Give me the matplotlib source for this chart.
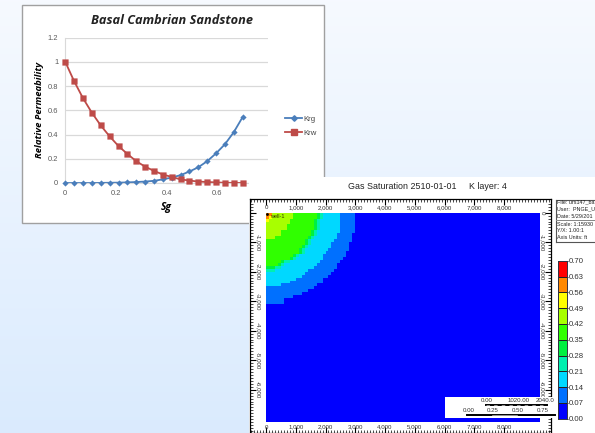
import numpy as np
import matplotlib
matplotlib.use('Agg')
import matplotlib.pyplot as plt
from matplotlib.colors import ListedColormap, BoundaryNorm
from matplotlib.lines import Line2D
from matplotlib.patches import Rectangle

W, H = 595, 433

# relative permeability curves
sg = [0, 0.035, 0.07, 0.105, 0.14, 0.175, 0.21, 0.245, 0.28, 0.315, 0.35,
      0.385, 0.42, 0.455, 0.49, 0.525, 0.56, 0.595, 0.63, 0.665, 0.7]
krg = [0, 0, 0, 0, 0.001, 0.002, 0.003, 0.005, 0.008, 0.012, 0.018,
       0.03, 0.045, 0.065, 0.095, 0.13, 0.18, 0.245, 0.32, 0.42, 0.545]
krw = [1, 0.84, 0.70, 0.58, 0.475, 0.385, 0.305, 0.24, 0.18, 0.135, 0.10,
       0.07, 0.05, 0.03, 0.02, 0.012, 0.008, 0.005, 0.002, 0.001, 0]

# saturation map: outer edge (ft) of each band, per 100 ft row
edge_007 = [3000]*7 + [2900]*3 + [2800]*3 + [2700, 2700, 2600, 2500, 2400, 2400, 2300, 2200,
                                            2100, 1900, 1900, 1700, 1600, 1400, 1200, 900, 600, 600]
edge_014 = [2500]*7 + [2400, 2400, 2300, 2200, 2200, 2100, 2000, 1900, 1900, 1800, 1700, 1600,
                       1400, 1300, 1200, 1000, 800, 500]
edge_021 = [1900, 1900, 1800, 1800, 1800, 1800, 1700, 1700, 1600, 1500, 1500, 1400, 1300, 1300,
            1100, 1000, 800, 600, 500, 300]
edge_028 = [1800, 1800, 1700, 1700, 1700, 1700, 1600, 1600, 1500, 1400, 1400, 1300, 1200, 1200,
            1000, 900, 600, 500, 300]
edge_035 = [1700, 1700, 1600, 1600, 1600, 1600, 1500, 1500, 1400, 1300, 1300, 1200, 1100, 1100,
            900, 800, 500, 400]
edge_042 = [900, 900, 800, 800, 700, 700, 500, 500, 300]
edge_049 = [200, 200, 100]
edge_056 = [200, 100]
map_edges = [edge_007, edge_014, edge_021, edge_028, edge_035, edge_042, edge_049, edge_056]

levels = [0.00, 0.07, 0.14, 0.21, 0.28, 0.35, 0.42, 0.49, 0.56, 0.63, 0.70]
level_colors = ['#0000ff', '#0070ff', '#00d8ff', '#00f0b0', '#00f040', '#30ff00',
                '#a8ff00', '#ffff00', '#ff8800', '#ff0000']
level_labels = ['0.00', '0.07', '0.14', '0.21', '0.28', '0.35', '0.42', '0.49', '0.56', '0.63', '0.70']

map_xticks = [0, 1000, 2000, 3000, 4000, 5000, 6000, 7000, 8000]
map_yticks = [0, -1000, -2000, -3000, -4000, -5000, -6000]
scale_top = ['0.00', '1020.00', '2040.0']
scale_bot = ['0.00', '0.25', '0.50', '0.75']
info_lines = ['File: urs147_ba', 'User:  PNGE_U', 'Date: 5/29/201', 'Scale: 1:15930', 'Y/X: 1.00:1', 'Axis Units: ft']


def px_axes(fig, left, top, right, bottom, **kw):
    return fig.add_axes([left/W, 1 - bottom/H, (right-left)/W, (bottom-top)/H], **kw)


fig = plt.figure(figsize=(W/100, H/100), dpi=100)
plt.rcParams['font.family'] = ['Liberation Sans', 'DejaVu Sans']

# slide background
bg = fig.add_axes([0, 0, 1, 1], zorder=0)
shade = np.linspace(0, 1, 200)[:, None, None]
c0 = np.array([0.965, 0.98, 1.0])
c1 = np.array([0.855, 0.92, 0.995])
bg.imshow(c0 + (c1-c0)*shade, extent=[0, 1, 0, 1], aspect='auto', origin='upper')
bg.axis('off')

# excel chart panel
fig.add_artist(Rectangle((21.5/W, 1-223/H), 302/W, 218/H, transform=fig.transFigure,
                         fc='white', ec='#a0a0a0', lw=1.0, zorder=1))
ax = px_axes(fig, 65.3, 37.7, 268, 183, zorder=2)
ax.patch.set_alpha(0)
# scatter so the markers don't get snapped to whole pixels
ax.plot(sg, krg, color='#4a7ebb', lw=1.3, clip_on=False)
ax.scatter(sg, krg, color='#4a7ebb', marker='D', s=10, lw=0, clip_on=False, zorder=3).set_snap(False)
ax.plot(sg, krw, color='#be4b48', lw=1.3, clip_on=False)
ax.scatter(sg, krw, color='#be4b48', marker='s', s=20, lw=0, clip_on=False, zorder=3).set_snap(False)
ax.set_xlim(0, 0.8)
ax.set_ylim(0, 1.2)
ax.set_xticks([0, 0.2, 0.4, 0.6])
ax.set_xticklabels(['0', '0.2', '0.4', '0.6'])
ax.set_yticks([0, 0.2, 0.4, 0.6, 0.8, 1, 1.2])
ax.set_yticklabels(['0', '0.2', '0.4', '0.6', '0.8', '1', '1.2'])
ax.grid(axis='y', color='#d9d9d9', lw=0.9)
ax.set_axisbelow(True)
for s in ['top', 'right']:
    ax.spines[s].set_visible(False)
ax.spines['left'].set_color('#d9d9d9')
ax.spines['bottom'].set_color('#d9d9d9')
ax.tick_params(length=0, labelsize=5.4, labelcolor='#595959', pad=5)
ax.set_xlabel('Sg', fontsize=7.4, fontweight='bold', style='italic', family='Open Sans', labelpad=3.5)
ax.set_ylabel('Relative Permeability', fontsize=6.8, fontweight='bold', style='italic',
              family='Open Sans', labelpad=3)
fig.text(172/W, 1-20/H, 'Basal Cambrian Sandstone', fontsize=9.2, fontweight='bold', style='italic',
         family='Open Sans', ha='center', va='center', zorder=3, color='#222222')
handles = [Line2D([], [], color='#4a7ebb', lw=1.3, marker='D', ms=2.8, label='Krg'),
           Line2D([], [], color='#be4b48', lw=1.3, marker='s', ms=4.2, label='Krw')]
ax.legend(handles=handles, loc='center left', bbox_to_anchor=(1.084, 0.392), frameon=False, fontsize=5.6,
          labelcolor='#444444', handlelength=2.2, handletextpad=0.15, labelspacing=0.8,
          borderpad=0, borderaxespad=0)

# simulator window
fig.add_artist(Rectangle((249/W, 0), 346/W, 1-177/H, transform=fig.transFigure,
                         fc='white', ec='none', zorder=4))
fig.text(427/W, 1-186.7/H, 'Gas Saturation 2510-01-01     K layer: 4', fontsize=6.4,
         ha='center', va='center', zorder=5, color='#222222')

# build the grid from the band edges
dx = 100
xe = np.arange(0, 9200 + dx, dx)
ye = -np.arange(0, 7100 + dx, dx)
grid = np.zeros((len(ye)-1, len(xe)-1))
xc = 0.5*(xe[:-1] + xe[1:])
for k, edge in enumerate(map_edges):
    for row, lim in enumerate(edge):
        grid[row, xc < lim] = levels[k+1] + 0.01

cmap = ListedColormap(level_colors)
norm = BoundaryNorm(levels, cmap.N)

m = px_axes(fig, 250, 199.5, 551, 433.5, zorder=5)
m.set_xlim((250-266)/29.75*1000, (551-266)/29.75*1000)
m.set_ylim(-(433.5-212.7)/29.5*1000, (212.7-199.5)/29.5*1000)
m.pcolormesh(xe, ye, grid, cmap=cmap, norm=norm, shading='flat', zorder=1)
m.set_xticks(map_xticks)
m.set_yticks(map_yticks)
m.set_xticks(np.arange(-500, 9600, 100), minor=True)
m.set_yticks(np.arange(-7400, 400, 100), minor=True)
m.tick_params(which='major', direction='in', length=4, width=0.8, top=True, right=True,
              labelbottom=False, labelleft=False)
m.tick_params(which='minor', direction='in', length=2, width=0.5, top=True, right=True)
for s in m.spines.values():
    s.set_linewidth(0.9)
for v in map_xticks:
    m.text(v, 170, f'{v:,}', fontsize=4.4, ha='center', va='center', color='#333333')
    m.text(v, -7265, f'{v:,}', fontsize=4.4, ha='center', va='center', color='#333333')
for v in map_yticks:
    lab = '0' if v == 0 else f'{v:,}'
    if v != 0:
        m.text(-270, v, lab, fontsize=4.4, rotation=-90, ha='center', va='center', color='#333333')
    m.text(9270, v, lab, fontsize=4.4, rotation=-90, ha='center', va='center', color='#333333', zorder=2)
m.text(130, -135, 'well-1', fontsize=4.0, ha='left', va='center', color='#333300', zorder=3)
m.plot([40], [-40], marker='o', ms=1.0, color='black', zorder=3)

# scale bars
m.add_patch(Rectangle((6027, -6949), 3703, 702, fc='white', ec='none', zorder=3, clip_on=False))
for lab, v in zip(scale_top, [7407, 8485, 9394]):
    m.text(v, -6373, lab, fontsize=4.4, ha='center', va='center', color='#333333', zorder=4, clip_on=False)
for lab, v in zip(scale_bot, [6800, 7610, 8450, 9290]):
    m.text(v, -6712, lab, fontsize=4.4, ha='center', va='center', color='#333333', zorder=4, clip_on=False)
m.plot([7407, 9460], [-6529, -6529], color='black', lw=1.4, zorder=4, clip_on=False)
m.plot([7407, 9460], [-6529, -6529], color='#cccccc', lw=0.5, dashes=(5, 6), zorder=5, clip_on=False)
m.plot([6770, 9730], [-6858, -6858], color='black', lw=1.4, zorder=4, clip_on=False)
m.plot([7610, 8450], [-6858, -6858], color='#cccccc', lw=0.5, zorder=5, clip_on=False)

# info box
box = px_axes(fig, 555.5, 199.5, 596, 242, zorder=5)
box.set_xticks([])
box.set_yticks([])
for s in box.spines.values():
    s.set_color('#555555')
for yp, line in zip([201.7, 209, 216.7, 224.5, 231, 237.7], info_lines):
    fig.text(557/W, 1-yp/H, line, fontsize=3.9, ha='left', va='center', color='#222222', zorder=6)
fig.add_artist(Rectangle((555.5/W, 1-221.3/H), 40/W, 1.2/H, transform=fig.transFigure,
                         fc='#888888', ec='none', zorder=6))

# colour bar
cb = px_axes(fig, 557.5, 260.7, 567, 418.7, zorder=5)
cb.pcolormesh([0, 1], levels, np.array(levels[:-1])[:, None] + 0.01, cmap=cmap, norm=norm,
              edgecolors='#222222', linewidth=0.4)
cb.set_xticks([])
cb.yaxis.tick_right()
cb.set_yticks(levels)
cb.set_yticklabels(level_labels)
cb.tick_params(axis='y', length=1, width=0.6, labelsize=5.6, pad=0.3, labelcolor='#333333')
for s in cb.spines.values():
    s.set_linewidth(0.7)
    s.set_color('#333344')

fig.savefig('out.png', dpi=100)
